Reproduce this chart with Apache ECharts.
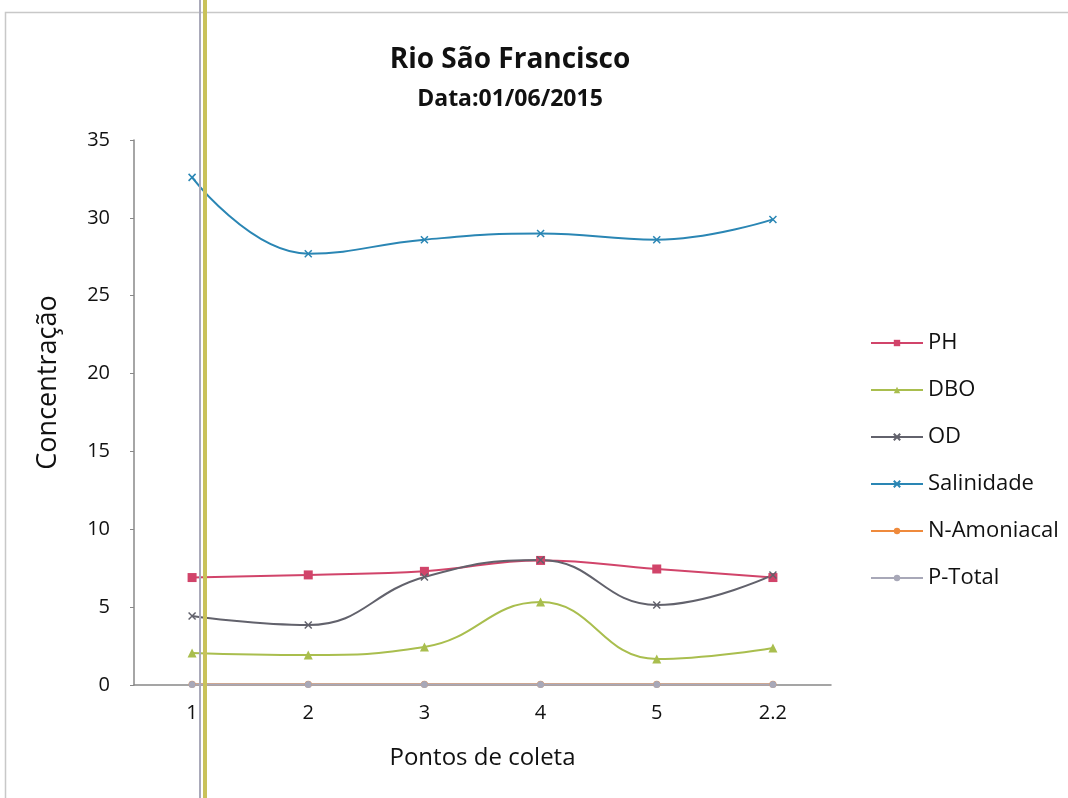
<!DOCTYPE html>
<html>
<head>
<meta charset="utf-8">
<script src="https://cdn.jsdelivr.net/npm/echarts@6/dist/echarts.min.js"></script>
<style>
  html, body { margin: 0; padding: 0; background: #fff; }
  #chart { width: 1068px; height: 798px; }
</style>
</head>
<body>
<div id="chart"></div>
<script>
// Sampling points along the river
const categories = ['1', '2', '3', '4', '5', '2.2'];

// Measured concentrations per parameter
const ph = [6.9, 7.07, 7.3, 8.0, 7.45, 6.9];
const dbo = [2.06, 1.93, 2.44, 5.33, 1.67, 2.38];
const od = [4.43, 3.85, 6.94, 8.03, 5.14, 7.07];
const salinidade = [32.6, 27.7, 28.6, 29.0, 28.6, 29.9];
const nAmoniacal = [0.05, 0.05, 0.05, 0.05, 0.05, 0.05];
const pTotal = [0.04, 0.04, 0.04, 0.04, 0.04, 0.04];

const xMark = 'path://M0,0 L10,10 M10,0 L0,10';
const font = '"Open Sans", Lato, sans-serif';

const chart = echarts.init(document.getElementById('chart'));

function line(name, data, color, symbol, size) {
  return {
    name, type: 'line', data, smooth: 0.45,
    symbol, symbolSize: size,
    lineStyle: { color, width: 2 },
    itemStyle: { color, borderColor: color, borderWidth: symbol === xMark ? 1.5 : 0 },
    emphasis: { disabled: true }
  };
}

chart.setOption({
  animation: false,
  textStyle: { fontFamily: font },
  title: {
    text: 'Rio São Francisco',
    subtext: 'Data:01/06/2015',
    left: 505, top: 41, textAlign: 'center',
    itemGap: 14,
    textStyle: { fontFamily: font, fontSize: 28, fontWeight: 'bold', color: '#111' },
    subtextStyle: { fontFamily: font, fontSize: 23, fontWeight: 'bold', color: '#111' }
  },
  legend: {
    orient: 'vertical', left: 870, top: 332, padding: 0,
    itemGap: 25, itemWidth: 52, itemHeight: 8,
    textStyle: { fontFamily: font, fontSize: 22, color: '#111' },
    data: ['PH', 'DBO', 'OD', 'Salinidade', 'N-Amoniacal', 'P-Total']
  },
  grid: { left: 134, right: 237, top: 140, bottom: 113 },
  xAxis: {
    type: 'category', data: categories, boundaryGap: true,
    name: 'Pontos de coleta', nameLocation: 'middle', nameGap: 61,
    nameTextStyle: { fontFamily: font, fontSize: 24, color: '#111' },
    axisLine: { lineStyle: { color: '#888', width: 1.5 } },
    axisTick: { show: false },
    axisLabel: { fontFamily: font, fontSize: 20, color: '#111', margin: 18 }
  },
  yAxis: {
    type: 'value', min: 0, max: 35, interval: 5,
    name: 'Concentração', nameLocation: 'middle', nameGap: 72, nameRotate: 90,
    nameTextStyle: { fontFamily: font, fontSize: 27, color: '#111', padding: [0, 0, 0, 60] },
    axisLine: { show: true, lineStyle: { color: '#888', width: 1.5 } },
    axisTick: { show: true, length: 4, lineStyle: { color: '#888' } },
    splitLine: { show: false },
    axisLabel: { fontFamily: font, fontSize: 20, color: '#111', margin: 24 }
  },
  series: [
    line('PH', ph, '#d1446a', 'rect', 9),
    line('DBO', dbo, '#a9be4e', 'triangle', 9),
    line('OD', od, '#62626c', xMark, 7),
    line('Salinidade', salinidade, '#2a86b4', xMark, 7),
    line('N-Amoniacal', nAmoniacal, '#ef8a3c', 'circle', 7),
    line('P-Total', pTotal, '#a8a8b8', 'circle', 7)
  ],
  graphic: [
    { type: 'rect', shape: { x: 5.5, y: 12.5, width: 1080, height: 800 },
      style: { fill: 'none', stroke: '#c8c8c8', lineWidth: 1.5 }, z: 0 },
    { type: 'rect', shape: { x: 199, y: 0, width: 2, height: 798 },
      style: { fill: '#a9a9b9' }, z: 100 },
    { type: 'rect', shape: { x: 203, y: 0, width: 4, height: 798 },
      style: { fill: '#c9c25a' }, z: 100 }
  ]
});
</script>
</body>
</html>
